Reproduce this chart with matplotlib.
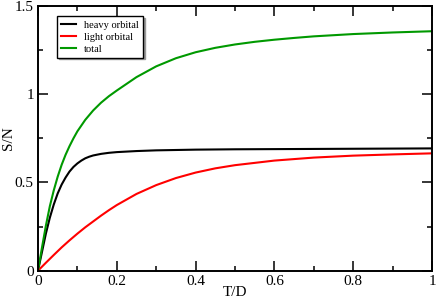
import numpy as np
import matplotlib
matplotlib.use('Agg')
import matplotlib.pyplot as plt
from matplotlib.ticker import MultipleLocator, FormatStrFormatter

# values
heavy_t = [0, 0.01, 0.02, 0.03, 0.04, 0.05, 0.06, 0.07, 0.08, 0.09, 0.10, 0.11, 0.12, 0.13,
           0.14, 0.16, 0.18, 0.20, 0.25, 0.30, 0.40, 0.50, 0.60, 0.70, 0.80, 0.90, 1.0]
heavy_s = [0, 0.105, 0.21, 0.30, 0.375, 0.438, 0.488, 0.528, 0.562, 0.588, 0.608, 0.624,
           0.637, 0.646, 0.653, 0.662, 0.668, 0.672, 0.678, 0.682, 0.686, 0.688, 0.689,
           0.690, 0.691, 0.692, 0.693]

light_t = [0, 0.02, 0.04, 0.06, 0.08, 0.10, 0.12, 0.14, 0.16, 0.18, 0.20, 0.25, 0.30,
           0.35, 0.40, 0.45, 0.50, 0.60, 0.70, 0.80, 0.90, 1.0]
light_s = [0, 0.045, 0.089, 0.132, 0.172, 0.21, 0.246, 0.279, 0.312, 0.343, 0.372, 0.435,
           0.485, 0.525, 0.556, 0.58, 0.598, 0.624, 0.641, 0.652, 0.659, 0.665]

total_t = [0, 0.01, 0.02, 0.03, 0.04, 0.05, 0.06, 0.07, 0.08, 0.09, 0.10, 0.12, 0.14, 0.16,
           0.18, 0.20, 0.25, 0.30, 0.35, 0.40, 0.45, 0.50, 0.55, 0.60, 0.65, 0.70, 0.80,
           0.90, 1.0]
total_s = [0, 0.13, 0.255, 0.365, 0.455, 0.533, 0.60, 0.657, 0.706, 0.75, 0.79, 0.855, 0.908,
           0.952, 0.989, 1.021, 1.097, 1.158, 1.204, 1.238, 1.263, 1.282, 1.297, 1.309,
           1.319, 1.328, 1.341, 1.350, 1.357]

plt.rcParams['font.family'] = ['Liberation Serif', 'DejaVu Serif']

fig = plt.figure(figsize=(4.36, 3.02), dpi=100)
ax = fig.add_axes([38 / 436, 1 - 270.7 / 302, 394 / 436, 264.7 / 302])

ax.plot(heavy_t, heavy_s, color='black', lw=1.5, label='heavy orbital')
ax.plot(light_t, light_s, color='red', lw=1.5, label='light orbital')
ax.plot(total_t, total_s, color='#009900', lw=1.5, label='total')

ax.set_xlim(0, 1)
ax.set_ylim(0, 1.5)
ax.xaxis.set_major_locator(MultipleLocator(0.2))
ax.xaxis.set_minor_locator(MultipleLocator(0.1))
ax.yaxis.set_major_locator(MultipleLocator(0.5))
ax.yaxis.set_minor_locator(MultipleLocator(0.25))
ax.xaxis.set_major_formatter(FormatStrFormatter('%g'))
ax.yaxis.set_major_formatter(FormatStrFormatter('%g'))
ax.tick_params(which='both', direction='in', top=True, right=True, width=1.1,
               labelsize=11, pad=3)
ax.tick_params(which='major', length=7)
ax.tick_params(which='minor', length=3.5)
for sp in ax.spines.values():
    sp.set_linewidth(1.4)

ax.set_xlabel('T/D', fontsize=11, labelpad=-1)
ax.set_ylabel('S/N', fontsize=11, labelpad=0)

leg = ax.legend(loc='upper left', bbox_to_anchor=(0.048, 0.961), borderaxespad=0,
                fontsize=7.5, frameon=True, fancybox=False, edgecolor='black',
                handlelength=1.4, handletextpad=0.8, labelspacing=0.25,
                borderpad=0.4, shadow={'color': '0.6', 'alpha': 1, 'ox': 1.2, 'oy': -1.2})
leg.get_frame().set_linewidth(1.0)

fig.savefig('out.png', dpi=100)
